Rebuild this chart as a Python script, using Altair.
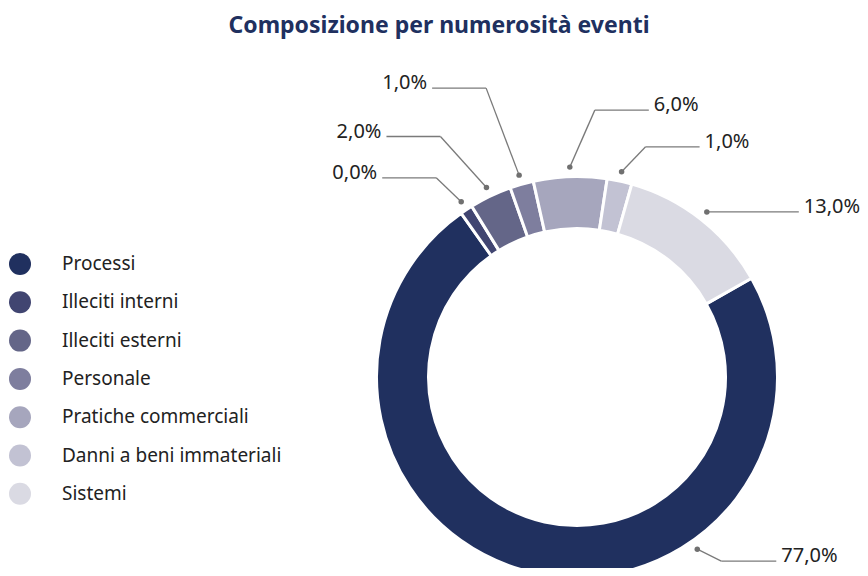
import math
import altair as alt
import pandas as pd

# ---- data ----
categories = ["Processi", "Illeciti interni", "Illeciti esterni", "Personale",
              "Pratiche commerciali", "Danni a beni immateriali", "Sistemi"]
shares = [73.4, 1.0, 3.4, 1.9, 5.9, 2.0, 12.4]          # drawn slice sizes (%)
labels = ["77,0%", "0,0%", "2,0%", "1,0%", "6,0%", "1,0%", "13,0%"]
colors = ["#20305f", "#414571", "#646688", "#7e7e9e", "#a6a6bd", "#c2c2d3", "#dadae3"]
title_text = "Composizione per numerosità eventi"

# ---- layout ----
W, H = 852, 560
CX, CY = 569, 369
R_OUT, R_IN, R_DOT = 200.5, 148.5, 210
START_DEG = 60.5
# per label: position inside slice (fraction), elbow offset from dot, horizontal length, side
label_frac = [0.32, 0.5, 0.5, 0.5, 0.5, 0.5, 0.5]
elbow_dx = [24, -25, -46, -33, 25, 24, 0]
elbow_dy = [12, -24, -51, -87, -57, -25, 0]
hlen = [55, 54, 54, 54, 54, 54, 92]
side = ["right", "left", "left", "left", "right", "right", "right"]
FONT = "Noto Sans"

total = sum(shares)
rows = []
cum = 0.0
for i, (c, s) in enumerate(zip(categories, shares)):
    ang = math.radians(START_DEG + 360.0 * (cum + label_frac[i] * s) / total)
    cum += s
    dx = CX + R_DOT * math.sin(ang)
    dy = CY - R_DOT * math.cos(ang)
    ex = dx + elbow_dx[i]
    ey = dy + elbow_dy[i]
    sgn = 1 if side[i] == "right" else -1
    hx = ex + sgn * hlen[i]
    tx = hx + sgn * 5
    rows.append(dict(cat=c, idx=i, share=s, label=labels[i], side=side[i],
                     dot_x=dx, dot_y=dy, el_x=ex, el_y=ey, end_x=hx, txt_x=tx))
df = pd.DataFrame(rows)

xs = alt.Scale(domain=[0, W], range=[0, W], nice=False, zero=False)
ys = alt.Scale(domain=[0, H], range=[0, H], nice=False, zero=False)

a0 = math.radians(START_DEG)
arcs = alt.Chart(df).mark_arc(
    outerRadius=R_OUT, innerRadius=R_IN, stroke="white", strokeWidth=3
).encode(
    theta=alt.Theta("share:Q", stack=True,
                    scale=alt.Scale(domain=[0, total], range=[a0, a0 + 2 * math.pi])),
    order=alt.Order("idx:Q"),
    color=alt.Color("cat:N", scale=alt.Scale(domain=categories, range=colors),
                    legend=alt.Legend(orient="none", legendX=1, legendY=245, title=None,
                                      symbolType="circle", symbolSize=484,
                                      symbolStrokeWidth=0, symbolOpacity=1,
                                      labelFont=FONT, labelFontSize=19, labelColor="#222222",
                                      rowPadding=16.3, labelOffset=31, padding=0,
                                      labelLimit=400)),
    x=alt.value(CX), y=alt.value(CY),
)

seg1 = alt.Chart(df).mark_rule(color="#7a7a7a", strokeWidth=1.3).encode(
    x=alt.X("dot_x:Q", scale=xs, axis=None), y=alt.Y("dot_y:Q", scale=ys, axis=None),
    x2="el_x:Q", y2="el_y:Q")
seg2 = alt.Chart(df).mark_rule(color="#7a7a7a", strokeWidth=1.3).encode(
    x=alt.X("el_x:Q", scale=xs, axis=None), y=alt.Y("el_y:Q", scale=ys, axis=None),
    x2="end_x:Q", y2="el_y:Q")
dots = alt.Chart(df).mark_circle(color="#707070", opacity=1, size=30).encode(
    x=alt.X("dot_x:Q", scale=xs, axis=None), y=alt.Y("dot_y:Q", scale=ys, axis=None))

txt_r = alt.Chart(df).transform_filter("datum.side == 'right'").mark_text(
    align="left", baseline="alphabetic", font=FONT, fontSize=20, color="#222222", dy=1
).encode(x=alt.X("txt_x:Q", scale=xs, axis=None), y=alt.Y("el_y:Q", scale=ys, axis=None),
         text="label:N")
txt_l = alt.Chart(df).transform_filter("datum.side == 'left'").mark_text(
    align="right", baseline="alphabetic", font=FONT, fontSize=20, color="#222222", dy=1
).encode(x=alt.X("txt_x:Q", scale=xs, axis=None), y=alt.Y("el_y:Q", scale=ys, axis=None),
         text="label:N")

title = alt.Chart(pd.DataFrame({"t": [title_text]})).mark_text(
    align="center", baseline="alphabetic", font=FONT, fontSize=23, fontWeight="bold",
    color="#20305f"
).encode(x=alt.value(431), y=alt.value(25), text="t:N")

chart = alt.layer(arcs, seg1, seg2, dots, txt_r, txt_l, title).properties(
    width=W, height=H, autosize="none", padding=0
).configure_view(stroke=None)

chart.save("out.html", embed_options={"renderer": "svg", "actions": False})
